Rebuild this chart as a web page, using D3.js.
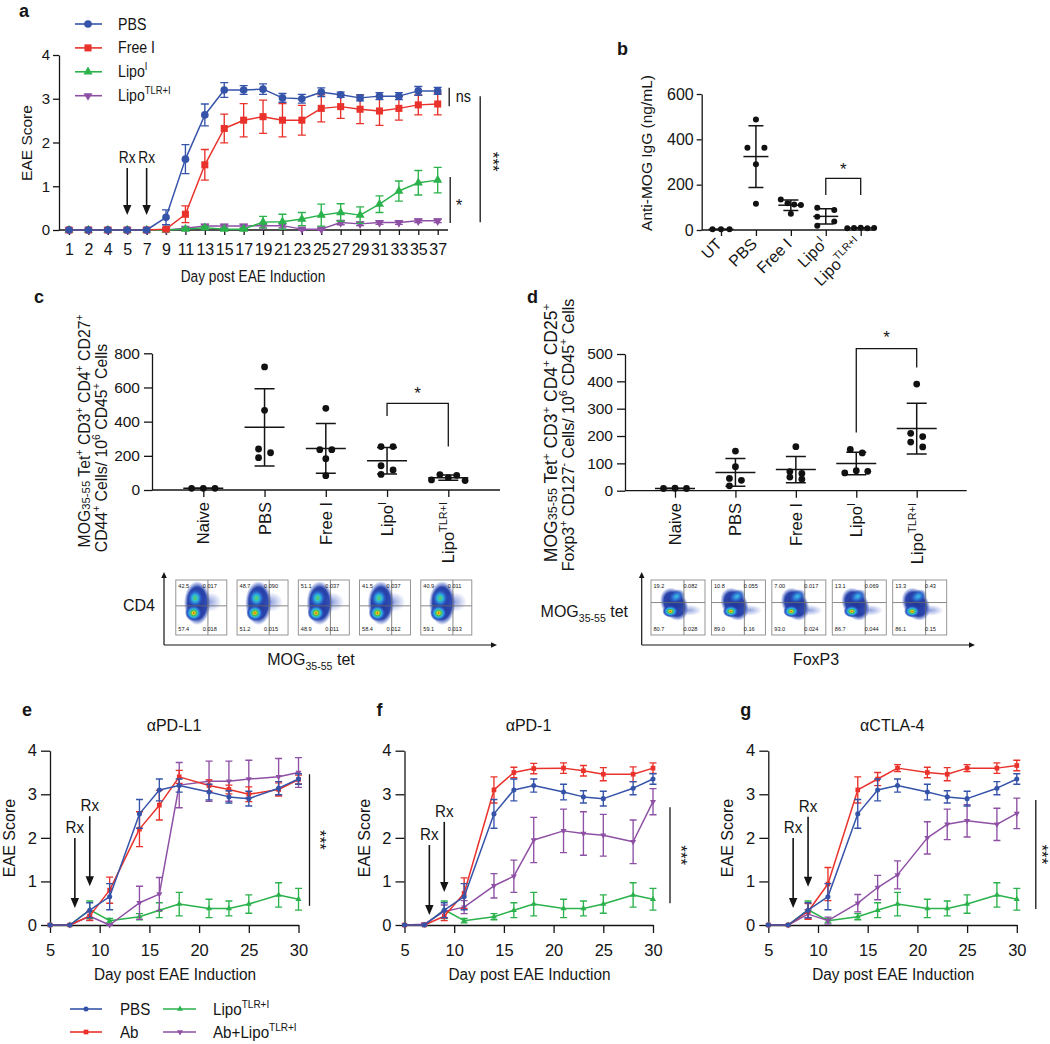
<!DOCTYPE html>
<html>
<head>
<meta charset="utf-8">
<script src="https://cdn.jsdelivr.net/npm/d3@7"></script>
<style>
 html,body{margin:0;padding:0;background:#fff;}
 svg{display:block;}
</style>
</head>
<body>
<svg id="fig" width="1050" height="1044" xmlns="http://www.w3.org/2000/svg"></svg>
<script>
// ================= DATA =================
// Panel a
const daysA = [1,2,4,5,7,9,11,13,15,17,19,21,23,25,27,29,31,33,35,37];
const a_PBS        = [0,0,0,0,0,0.29,1.62,2.63,3.20,3.20,3.22,3.02,3.00,3.15,3.09,3.02,3.06,3.06,3.18,3.18];
const a_PBS_err    = [0,0,0,0,0,0.17,0.33,0.25,0.17,0.10,0.12,0.10,0.10,0.10,0.06,0.07,0.08,0.08,0.10,0.08];
const a_FreeI      = [0,0,0,0,0,0.02,0.36,1.49,2.32,2.51,2.59,2.51,2.51,2.78,2.82,2.76,2.72,2.78,2.86,2.88];
const a_FreeI_err  = [0,0,0,0,0,0.02,0.19,0.35,0.33,0.38,0.38,0.38,0.34,0.31,0.27,0.33,0.33,0.27,0.23,0.25];
const a_LipoI      = [0,0,0,0,0,0,0.02,0.05,0.02,0.02,0.18,0.19,0.25,0.34,0.40,0.34,0.59,0.89,1.08,1.14];
const a_LipoI_err  = [0,0,0,0,0,0,0.02,0.03,0.02,0.02,0.13,0.17,0.15,0.25,0.20,0.19,0.19,0.23,0.28,0.29];
const a_LipoTLR    = [0,0,0,0,0,0,0.04,0.09,0.09,0.09,0.10,0.10,0.02,0.02,0.17,0.14,0.17,0.17,0.21,0.21];
const a_LipoTLR_err= [0,0,0,0,0,0,0.02,0.04,0.04,0.04,0.05,0.05,0.02,0.02,0.05,0.04,0.04,0.04,0.04,0.04];
const groupsA = ["PBS","Free I","LipoI","LipoTLR+I"];
const yTicksA = [0,1,2,3,4];

// Panel b
const catsB = ["UT","PBS","Free I","LipoI","LipoTLR+I"];
const b_UT = [3,3,3];
const b_PBS = [488,363,363,290,116];
const b_FreeI = [135,118,112,110,72];
const b_LipoI = [98,88,59,37,19];
const b_LipoTLR = [8,9,10,8,9];
const yTicksB = [0,200,400,600];

// Panel c
const catsCD = ["Naive","PBS","Free I","LipoI","LipoTLR+I"];
const c_Naive = [10,10,10];
const c_PBS = [720,466,240,218,189];
const c_FreeI = [478,236,236,183,84];
const c_LipoI = [254,254,142,117,91];
const c_LipoTLR = [59,90,72,86,55];
const yTicksC = [0,200,400,600,800];

// Panel d
const d_Naive = [8,9,8];
const d_PBS = [145,88,45,38,18];
const d_FreeI = [161,70,63,50,42];
const d_LipoI = [151,138,65,73,71];
const d_LipoTLR = [390,210,198,178,160];
const yTicksD = [0,100,200,300,400,500];

// Flow cytometry quadrant percentages
const flowC_UL = ["42.5","48.7","51.1","41.5","40.9"];
const flowC_UR = ["0.017","0.090","0.037","0.037","0.011"];
const flowC_LL = ["57.4","51.2","48.9","58.4","59.1"];
const flowC_LR = ["0.018","0.015","0.011","0.012","0.013"];
const flowD_UL = ["19.2","10.8","7.00","13.1","13.3"];
const flowD_UR = ["0.082","0.055","0.017","0.069","0.43"];
const flowD_LL = ["80.7","89.0","93.0","86.7","86.1"];
const flowD_LR = ["0.028","0.16","0.024","0.044","0.15"];

// Panels e, f, g
const daysEFG = [5,7,9,11,14,16,18,21,23,25,28,30];
const xTicksEFG = [5,10,15,20,25,30];
const efg_PBS     = [0,0,0.34,0.65,2.55,3.10,3.20,3.05,2.94,2.90,3.14,3.35];
const efg_PBS_err = [0,0,0.17,0.30,0.33,0.25,0.15,0.18,0.14,0.17,0.15,0.12];
const efg_Lipo    = [0,0,0.35,0.10,0.19,0.34,0.48,0.38,0.38,0.48,0.69,0.59];
const efg_Lipo_err= [0,0,0.20,0.05,0.07,0.17,0.27,0.21,0.17,0.21,0.28,0.25];
const e_Ab        = [0,0,0.21,0.80,2.20,2.75,3.40,3.20,3.11,3.00,3.11,3.34];
const e_Ab_err    = [0,0,0.10,0.30,0.40,0.34,0.15,0.13,0.10,0.17,0.15,0.10];
const e_AbLipo    = [0,0,0.20,0.00,0.51,0.71,3.21,3.30,3.30,3.35,3.40,3.50];
const e_AbLipo_err= [0,0,0.10,0.02,0.38,0.38,0.52,0.46,0.46,0.43,0.42,0.34];
const f_Ab        = [0,0,0.20,0.73,3.10,3.50,3.59,3.60,3.54,3.46,3.46,3.60];
const f_Ab_err    = [0,0,0.10,0.35,0.30,0.12,0.12,0.12,0.12,0.15,0.17,0.12];
const f_AbLipo    = [0,0.02,0.31,0.41,0.90,1.12,1.95,2.16,2.10,2.06,1.91,2.83];
const f_AbLipo_err= [0,0.02,0.15,0.15,0.28,0.37,0.52,0.50,0.50,0.48,0.50,0.30];
const g_Ab        = [0,0,0.31,0.94,3.10,3.35,3.60,3.50,3.46,3.60,3.60,3.66];
const g_Ab_err    = [0,0,0.18,0.38,0.30,0.15,0.08,0.12,0.15,0.08,0.12,0.12];
const g_AbLipo    = [0,0,0.25,0.10,0.50,0.86,1.15,2.00,2.31,2.39,2.31,2.56];
const g_AbLipo_err= [0,0,0.10,0.08,0.20,0.28,0.32,0.37,0.35,0.37,0.37,0.35];
const groupsEFG = ["PBS","Ab","LipoTLR+I","Ab+LipoTLR+I"];

// ================= SETUP =================
const svg = d3.select("#fig");
svg.append("rect").attr("width",1050).attr("height",1044).attr("fill","#fff");
const FONT = "'Liberation Sans', Arial, Helvetica, sans-serif";
const INK = "#151515";
const COL = {blue:"#3553a9", red:"#e9322b", green:"#2bb24c", purple:"#8e50a5"};
const defs = svg.append("defs");
const fmtInt = d3.format("d");

function rich(t, parts, fs){
  let shift = 0;
  parts.forEach(p=>{
    const target = p.sup ? -0.42*fs : (p.sub ? 0.3*fs : 0);
    const sz = (p.sup||p.sub) ? 0.66*fs : (p.small ? 0.72*fs : fs);
    const ts = t.append("tspan").attr("font-size", sz).text(p.t);
    if (target !== shift){ ts.attr("dy", target - shift); shift = target; }
  });
}
function txt(g, x, y, s, o={}){
  const fs = o.fs || 15;
  const t = g.append("text").attr("font-family",FONT).attr("font-size",fs).attr("fill",INK)
    .attr("text-anchor",o.anchor||"start");
  const sc = o.sx ? ` scale(${o.sx},1)` : "";
  if (o.rot!=null) t.attr("transform",`translate(${x},${y}) rotate(${o.rot})${sc}`);
  else if (o.sx) t.attr("transform",`translate(${x},${y})${sc}`);
  else t.attr("x",x).attr("y",y);
  if (o.bold) t.attr("font-weight","bold");
  if (o.dy) t.attr("dy",o.dy);
  if (Array.isArray(s)) rich(t,s,fs); else t.text(s);
  return t;
}
function lp(name){
  if (name==="LipoI") return [{t:"Lipo"},{t:"I",sup:true}];
  if (name==="LipoTLR+I") return [{t:"Lipo"},{t:"TLR+I",sup:true}];
  if (name==="Ab+LipoTLR+I") return [{t:"Ab+Lipo"},{t:"TLR+I",sup:true}];
  return name;
}
function styleAxis(a, fs){
  a.attr("font-family",FONT).attr("font-size",fs);
  a.selectAll(".domain,.tick line").attr("stroke",INK).attr("stroke-width",1.3);
  a.selectAll(".tick text").attr("fill",INK);
}
function symPath(shape,size){
  const t = shape==="circle"?d3.symbolCircle:shape==="square"?d3.symbolSquare:d3.symbolTriangle;
  return d3.symbol(t,size)();
}
function drawSeries(g, x, y, xs, v, e, color, shape, size, cap, lw){
  g.append("path").attr("d", d3.line().x((d,i)=>x(xs[i])).y(d=>y(d))(v))
    .attr("fill","none").attr("stroke",color).attr("stroke-width",lw).attr("stroke-linejoin","round");
  const eb = g.append("g").attr("stroke",color).attr("stroke-width",lw*0.9).attr("fill","none");
  v.forEach((d,i)=>{
    if (!e[i]) return;
    const cx=x(xs[i]), yt=y(d+e[i]), yb=y(Math.max(0,d-e[i]));
    eb.append("path").attr("d",`M${cx},${yb}V${yt}M${cx-cap/2},${yt}H${cx+cap/2}M${cx-cap/2},${yb}H${cx+cap/2}`);
  });
  v.forEach((d,i)=>{
    g.append("path").attr("d",symPath(shape,size)).attr("fill",color)
      .attr("transform",`translate(${x(xs[i])},${y(d)})${shape==="down"?" rotate(180)":""}`);
  });
}
function rxArrow(g, x, tipY, len, gap, fs, sx){
  g.append("line").attr("x1",x).attr("x2",x).attr("y1",tipY-len).attr("y2",tipY-8)
    .attr("stroke",INK).attr("stroke-width",1.6);
  g.append("path").attr("d",`M${x-4.2},${tipY-10}L${x+4.2},${tipY-10}L${x},${tipY}Z`).attr("fill",INK);
  txt(g, x, tipY-len-gap, "Rx", {fs:fs||16, anchor:"middle", sx:sx});
}
function legendItem(g, x1, x2, xm, xt, y, color, shape, size, label, fs, sx){
  g.append("line").attr("x1",x1).attr("x2",x2).attr("y1",y).attr("y2",y).attr("stroke",color).attr("stroke-width",1.6);
  g.append("path").attr("d",symPath(shape,size)).attr("fill",color)
    .attr("transform",`translate(${xm},${y})${shape==="down"?" rotate(180)":""}`);
  txt(g, xt, y+5.5, lp(label), {fs:fs, sx:sx});
}

// ================= PANEL A =================
const gA = svg.append("g");
const xA = d3.scalePoint().domain(daysA).range([69,437.7]);
const yA = d3.scaleLinear().domain([0,4]).range([230,55]);
{
  const ay = gA.append("g").attr("transform","translate(59,0)")
    .call(d3.axisLeft(yA).tickValues(yTicksA).tickFormat(fmtInt).tickSize(6).tickSizeOuter(0).tickPadding(3));
  styleAxis(ay,15);
  const ax = gA.append("g").attr("transform","translate(0,230)")
    .call(d3.axisBottom(xA).tickSize(5).tickPadding(9));
  ax.select(".domain").remove();
  styleAxis(ax,16);
  gA.append("line").attr("x1",59).attr("x2",448).attr("y1",230).attr("y2",230).attr("stroke",INK).attr("stroke-width",1.3);
  const serA = [
    [a_LipoTLR,a_LipoTLR_err,COL.purple,"down",34],
    [a_LipoI,a_LipoI_err,COL.green,"up",36],
    [a_FreeI,a_FreeI_err,COL.red,"square",50],
    [a_PBS,a_PBS_err,COL.blue,"circle",46]
  ];
  serA.forEach(s=>drawSeries(gA.append("g"), xA, yA, daysA, s[0], s[1], s[2], s[3], s[4], 8, 1.5));
  // legend
  const legA = [[COL.blue,"circle",46],[COL.red,"square",50],[COL.green,"up",36],[COL.purple,"down",34]];
  groupsA.forEach((name,i)=>legendItem(gA,75,102,88,118,24+i*23.9,legA[i][0],legA[i][1],legA[i][2],name,16.5,0.86));
  txt(gA, 32, 143, "EAE Score", {fs:15.5, anchor:"middle", rot:-90});
  txt(gA, 253, 282, "Day post EAE Induction", {fs:16.5, anchor:"middle", sx:0.83});
  txt(gA, 19, 17, "a", {fs:18, bold:true});
  rxArrow(gA, xA(5), 215, 47, 5, 16, 0.86);
  rxArrow(gA, xA(7), 215, 47, 5, 16, 0.86);
  // significance
  const xe = xA(37);
  const sl = (x,v1,v2)=>gA.append("line").attr("x1",x).attr("x2",x).attr("y1",yA(v1)).attr("y2",yA(v2)).attr("stroke",INK).attr("stroke-width",1.3);
  sl(xe+11.5, 3.25, 2.83); txt(gA, xe+18, 102, "ns", {fs:16, sx:0.9});
  sl(xe+12.5, 1.21, 0.16); txt(gA, xe+18, 211, "*", {fs:17});
  sl(xe+42.5, 3.06, 0.18); txt(gA, xe+49, yA(1.56), "***", {fs:17, anchor:"middle", rot:90});
}

// ================= DOT PLOTS (b, c, d) =================
function swarm(vals, y, P){
  const pts = vals.map((v,i)=>({v,i,py:y(v),dx:0}));
  const s = pts.slice().sort((a,b)=>b.v-a.v || a.i-b.i);
  const rows=[]; let cur=[s[0]];
  for (let k=1;k<s.length;k++){
    if (s[k].py - s[k-1].py < P.chain) cur.push(s[k]); else { rows.push(cur); cur=[s[k]]; }
  }
  rows.push(cur);
  rows.forEach(row=>{
    const n=row.length; if (n===1) return;
    const spread = row[n-1].py - row[0].py;
    if (spread < P.thr){
      const byI = row.slice().sort((a,b)=>a.i-b.i);
      if (n===2){ byI[0].dx=-P.dAlt/2; byI[1].dx=P.dAlt/2; }
      else { const d = n>=4?P.d4:P.d3; byI.forEach((p,j)=>p.dx=(j-(n-1)/2)*d); }
    } else row.forEach((p,j)=>p.dx=(j%2?1:-1)*P.dAlt/2);
  });
  return pts;
}
function dotPlot(g, cats, data, x, y, P){
  cats.forEach((c,ci)=>{
    const vals = data[ci], cx = x(c);
    const m = d3.mean(vals), sd = d3.deviation(vals);
    const lg = g.append("g").attr("stroke",INK).attr("stroke-width",1.5).attr("fill","none");
    lg.append("path").attr("d",`M${cx-P.meanW/2},${y(m)}H${cx+P.meanW/2}`);
    lg.append("path").attr("d",`M${cx},${y(m-sd)}V${y(m+sd)}M${cx-P.capW/2},${y(m+sd)}H${cx+P.capW/2}M${cx-P.capW/2},${y(m-sd)}H${cx+P.capW/2}`);
    swarm(vals,y,P).forEach(p=>g.append("circle").attr("cx",cx+p.dx).attr("cy",p.py).attr("r",P.r).attr("fill","#111"));
  });
}
function bracket(g, x1, x2, y, vTop, vL, vR, starY){
  g.append("path").attr("d",`M${x1},${y(vL)}V${y(vTop)}H${x2}V${y(vR)}`).attr("fill","none").attr("stroke",INK).attr("stroke-width",1.3);
  txt(g,(x1+x2)/2, starY, "*", {fs:17, anchor:"middle"});
}

// ---- Panel b ----
const gB = svg.append("g");
const xB = d3.scalePoint().domain(catsB).range([721,860.7]);
const yB = d3.scaleLinear().domain([0,600]).range([230,94]);
{
  const ay = gB.append("g").attr("transform","translate(701.7,0)")
    .call(d3.axisLeft(yB).tickValues(yTicksB).tickFormat(fmtInt).tickSize(5).tickSizeOuter(0).tickPadding(3));
  styleAxis(ay,16);
  const ax = gB.append("g").attr("transform","translate(0,230)")
    .call(d3.axisBottom(xB).tickSize(6).tickFormat(""));
  ax.select(".domain").remove(); styleAxis(ax,15);
  gB.append("line").attr("x1",701.7).attr("x2",873).attr("y1",230).attr("y2",230).attr("stroke",INK).attr("stroke-width",1.3);
  dotPlot(gB, catsB, [b_UT,b_PBS,b_FreeI,b_LipoI,b_LipoTLR], xB, yB,
    {r:3, meanW:25, capW:15, chain:7, thr:7, d3:8.5, d4:6.7, dAlt:17});
  catsB.forEach(c=>txt(gB, xB(c)+2, 245, lp(c), {fs:16, anchor:"end", rot:-45}));
  bracket(gB, xB("LipoI"), xB("LipoTLR+I"), yB, 228, 154, 154, 175);
  txt(gB, 652, 153, "Anti-MOG IgG (ng/mL)", {fs:15.5, anchor:"middle", rot:-90});
  txt(gB, 617, 55, "b", {fs:18, bold:true});
}

// ---- Panel c ----
const gC = svg.append("g");
const xC = d3.scalePoint().domain(catsCD).range([203.3,448.3]);
const yC = d3.scaleLinear().domain([0,800]).range([490,353.3]);
{
  const ay = gC.append("g").attr("transform","translate(152,0)")
    .call(d3.axisLeft(yC).tickValues(yTicksC).tickFormat(fmtInt).tickSize(8).tickSizeOuter(0).tickPadding(4));
  styleAxis(ay,15.5);
  const ax = gC.append("g").attr("transform","translate(0,490)")
    .call(d3.axisBottom(xC).tickSize(7).tickFormat(""));
  ax.select(".domain").remove(); styleAxis(ax,15);
  gC.append("line").attr("x1",152).attr("x2",500).attr("y1",490).attr("y2",490).attr("stroke",INK).attr("stroke-width",1.3);
  dotPlot(gC, catsCD, [c_Naive,c_PBS,c_FreeI,c_LipoI,c_LipoTLR], xC, yC,
    {r:3.4, meanW:40, capW:20, chain:7, thr:7, d3:11.7, d4:8.4, dAlt:12});
  catsCD.forEach(c=>txt(gC, xC(c), 502, lp(c), {fs:16.5, anchor:"end", rot:-90, dy:"0.36em"}));
  bracket(gC, xC("LipoI"), xC("LipoTLR+I"), yC, 507, 433, 254, 399);
  txt(gC, 90, 431, [{t:"MOG"},{t:"35-55",small:true},{t:" Tet"},{t:"+",sup:true},{t:" CD3"},{t:"+",sup:true},{t:" CD4"},{t:"+",sup:true},{t:" CD27"},{t:"+",sup:true}], {fs:15.8, anchor:"middle", rot:-90});
  txt(gC, 107, 448, [{t:"CD44"},{t:"+",sup:true},{t:" Cells/ 10"},{t:"6",sup:true},{t:" CD45"},{t:"+",sup:true},{t:" Cells"}], {fs:15.8, anchor:"middle", rot:-90});
  txt(gC, 34, 303, "c", {fs:18, bold:true});
}

// ---- Panel d ----
const gD = svg.append("g");
const xD = d3.scalePoint().domain(catsCD).range([675,916.7]);
const yD = d3.scaleLinear().domain([0,500]).range([490.7,354]);
{
  const ay = gD.append("g").attr("transform","translate(625,0)")
    .call(d3.axisLeft(yD).tickValues(yTicksD).tickFormat(fmtInt).tickSize(8).tickSizeOuter(0).tickPadding(4));
  styleAxis(ay,15.5);
  const ax = gD.append("g").attr("transform","translate(0,490.7)")
    .call(d3.axisBottom(xD).tickSize(7).tickFormat(""));
  ax.select(".domain").remove(); styleAxis(ax,15);
  gD.append("line").attr("x1",625).attr("x2",966.7).attr("y1",490.7).attr("y2",490.7).attr("stroke",INK).attr("stroke-width",1.3);
  dotPlot(gD, catsCD, [d_Naive,d_PBS,d_FreeI,d_LipoI,d_LipoTLR], xD, yD,
    {r:3.4, meanW:40, capW:20, chain:7, thr:7, d3:11.5, d4:8.4, dAlt:12});
  catsCD.forEach(c=>txt(gD, xD(c), 503, lp(c), {fs:16.5, anchor:"end", rot:-90, dy:"0.36em"}));
  bracket(gD, xD("LipoI"), xD("LipoTLR+I"), yD, 520, 213, 451, 343);
  txt(gD, 557, 433, [{t:"MOG"},{t:"35-55",small:true},{t:" Tet"},{t:"+",sup:true},{t:" CD3"},{t:"+",sup:true},{t:" CD4"},{t:"+",sup:true},{t:" CD25"},{t:"+",sup:true}], {fs:17.5, anchor:"middle", rot:-90});
  txt(gD, 574, 435, [{t:"Foxp3"},{t:"+",sup:true},{t:" CD127"},{t:"-",sup:true},{t:" Cells/ 10"},{t:"6",sup:true},{t:" CD45"},{t:"+",sup:true},{t:" Cells"}], {fs:16, anchor:"middle", rot:-90});
  txt(gD, 527, 303, "d", {fs:18, bold:true});
}

// ---- Flow cytometry insets ----
function radGrad(id, stops){
  const gr = defs.append("radialGradient").attr("id",id);
  stops.forEach(s=>gr.append("stop").attr("offset",s[0]).attr("stop-color",s[1]).attr("stop-opacity",s[2]==null?1:s[2]));
}
radGrad("gHot",[[0,"#d8201c"],[0.14,"#f0d020"],[0.3,"#4cc24a"],[0.5,"#2fb3e3"],[0.75,"#2a55c6"],[1,"#243a9e",0]]);
radGrad("gWarm",[[0,"#62cf48"],[0.3,"#2fc0d8"],[0.62,"#2c63cc"],[1,"#243a9e",0]]);
radGrad("gCool",[[0,"#3cc4e8"],[0.5,"#2d6ad0"],[1,"#243a9e",0]]);
radGrad("gEnv",[[0,"#22369a"],[0.72,"#2a44aa"],[1,"#3a5cc8",0]]);
radGrad("gTail",[[0,"#3a58c6",0.55],[1,"#3a58c6",0]]);

const blobC = [
  {f:"gEnv", cx:.42, cy:.42, rx:.26, ry:.40, rot:0},
  {f:"gTail", cx:.66, cy:.40, rx:.24, ry:.18, rot:0},
  {f:"gWarm", cx:.38, cy:.33, rx:.17, ry:.18, rot:0},
  {f:"gHot", cx:.35, cy:.60, rx:.17, ry:.15, rot:0}
];
const blobD = [
  {f:"gEnv", cx:.43, cy:.44, rx:.24, ry:.32, rot:-30},
  {f:"gTail", cx:.70, cy:.55, rx:.24, ry:.10, rot:0},
  {f:"gCool", cx:.47, cy:.30, rx:.17, ry:.12, rot:-30},
  {f:"gHot", cx:.36, cy:.57, rx:.15, ry:.11, rot:0}
];
let clipN = 0;
function flowBox(g, cx, top, w, h, blobs, vq, hq, ul, ur, ll, lr, urx){
  const x0 = cx - w/2, id = "clp"+(clipN++);
  defs.append("clipPath").attr("id",id).append("rect").attr("x",x0).attr("y",top).attr("width",w).attr("height",h);
  g.append("rect").attr("x",x0).attr("y",top).attr("width",w).attr("height",h).attr("fill","#fff");
  const bg = g.append("g").attr("clip-path",`url(#${id})`);
  blobs.forEach(b=>{
    bg.append("ellipse").attr("cx",0).attr("cy",0).attr("rx",b.rx*w).attr("ry",b.ry*h)
      .attr("fill",`url(#${b.f})`)
      .attr("transform",`translate(${x0+b.cx*w},${top+b.cy*h}) rotate(${b.rot})`);
  });
  g.append("line").attr("x1",x0+vq*w).attr("x2",x0+vq*w).attr("y1",top).attr("y2",top+h).attr("stroke","#6a6a6a").attr("stroke-width",0.8);
  g.append("line").attr("x1",x0).attr("x2",x0+w).attr("y1",top+hq*h).attr("y2",top+hq*h).attr("stroke","#6a6a6a").attr("stroke-width",0.8);
  g.append("rect").attr("x",x0).attr("y",top).attr("width",w).attr("height",h).attr("fill","none").attr("stroke","#8a8a8a").attr("stroke-width",0.9);
  const fs = 5.6;
  txt(g, x0+2.5, top+8, ul, {fs}); txt(g, x0+urx*w, top+8, ur, {fs});
  txt(g, x0+2.5, top+h-4, ll, {fs}); txt(g, x0+urx*w, top+h-4, lr, {fs});
}
function lArrows(g, x, yb, ytop, xr){
  const s = g.append("g").attr("stroke",INK).attr("stroke-width",1.2);
  s.append("line").attr("x1",x).attr("x2",x).attr("y1",yb).attr("y2",ytop+5);
  s.append("line").attr("x1",x).attr("x2",xr-5).attr("y1",yb).attr("y2",yb);
  g.append("path").attr("d",`M${x-2.8},${ytop+6}L${x+2.8},${ytop+6}L${x},${ytop}Z`).attr("fill",INK);
  g.append("path").attr("d",`M${xr-6},${yb-2.8}L${xr-6},${yb+2.8}L${xr},${yb}Z`).attr("fill",INK);
}
{
  const gF = svg.append("g");
  catsCD.forEach((c,i)=>flowBox(gF, xC(c)-2, 580, 51, 55, blobC, 0.63, 0.47, flowC_UL[i], flowC_UR[i], flowC_LL[i], flowC_LR[i], 0.53));
  catsCD.forEach((c,i)=>flowBox(gF, xD(c)+3, 580, 54, 55, blobD, 0.61, 0.41, flowD_UL[i], flowD_UR[i], flowD_LL[i], flowD_LR[i], 0.60));
  lArrows(gF, 164, 645, 572, 497);
  lArrows(gF, 641.7, 645, 572, 975);
  txt(gF, 155, 611, "CD4", {fs:16, anchor:"end"});
  txt(gF, 311, 665, [{t:"MOG"},{t:"35-55",sub:true},{t:" tet"}], {fs:16, anchor:"middle"});
  txt(gF, 628, 617, [{t:"MOG"},{t:"35-55",sub:true},{t:" tet"}], {fs:16, anchor:"end"});
  txt(gF, 816, 665, "FoxP3", {fs:16, anchor:"middle"});
}

// ================= PANELS E, F, G =================
const yE = d3.scaleLinear().domain([0,4]).range([925,750.7]);
const panelsEFG = [
  {lab:"e", title:"αPD-L1", x0:50,    ab:e_Ab, abE:e_Ab_err, abl:e_AbLipo, ablE:e_AbLipo_err, tips:[0.39,0.89], sig:[3.46,0.44], sigDx:11, starDx:4},
  {lab:"f", title:"αPD-1",  x0:404.5, ab:f_Ab, abE:f_Ab_err, abl:f_AbLipo, ablE:f_AbLipo_err, tips:[0.23,0.76], sig:[2.70,0.50], sigDx:17, starDx:5},
  {lab:"g", title:"αCTLA-4",x0:768.3, ab:g_Ab, abE:g_Ab_err, abl:g_AbLipo, ablE:g_AbLipo_err, tips:[0.39,0.88], sig:[2.87,0.37], sigDx:19, starDx:0}
];
panelsEFG.forEach(P=>{
  const g = svg.append("g");
  const x = d3.scaleLinear().domain([5,30]).range([P.x0, P.x0+248.5]);
  const ay = g.append("g").attr("transform",`translate(${P.x0},0)`)
    .call(d3.axisLeft(yE).tickValues(yTicksA).tickFormat(fmtInt).tickSize(9).tickSizeOuter(0).tickPadding(4));
  styleAxis(ay,16.5);
  const ax = g.append("g").attr("transform","translate(0,925)")
    .call(d3.axisBottom(x).tickValues(xTicksEFG).tickFormat(fmtInt).tickSize(8).tickSizeOuter(0).tickPadding(11));
  styleAxis(ax,16.5);
  const ser = [
    [efg_Lipo,efg_Lipo_err,COL.green,"up",16],
    [P.abl,P.ablE,COL.purple,"down",16],
    [P.ab,P.abE,COL.red,"square",22],
    [efg_PBS,efg_PBS_err,COL.blue,"circle",20]
  ];
  ser.forEach(s=>drawSeries(g.append("g"), x, yE, daysEFG, s[0], s[1], s[2], s[3], s[4], 7, 1.5));
  rxArrow(g, x(7.5), yE(P.tips[0]), 70, 5, 16, 0.95);
  rxArrow(g, x(9), yE(P.tips[1]), 70, 5, 16, 0.95);
  const xs = x(30)+P.sigDx;
  g.append("line").attr("x1",xs).attr("x2",xs).attr("y1",yE(P.sig[0])).attr("y2",yE(P.sig[1])).attr("stroke",INK).attr("stroke-width",1.3);
  txt(g, xs+P.starDx, yE((P.sig[0]+P.sig[1])/2), "***", {fs:17, anchor:"middle", rot:90});
  txt(g, P.x0+124, 731, P.title, {fs:16, anchor:"middle"});
  txt(g, P.x0-35, 838, "EAE Score", {fs:16, anchor:"middle", rot:-90});
  txt(g, P.x0+125, 980, "Day post EAE Induction", {fs:16, anchor:"middle", sx:0.96});
  txt(g, P.x0-28, 716, P.lab, {fs:18, bold:true});
});
// bottom legend
{
  const gl = svg.append("g");
  const legE = [[COL.blue,"circle",20],[COL.red,"square",22],[COL.green,"up",16],[COL.purple,"down",16]];
  groupsEFG.forEach((name,i)=>{
    const col = i<2?0:1, row = i%2;
    const x1 = col?163:70, x2 = col?196:102, xm = col?180:86, xt = col?213:120;
    legendItem(gl, x1, x2, xm, xt, 1009+row*23, legE[i][0], legE[i][1], legE[i][2], name, 16.5, 0.92);
  });
}
</script>
</body>
</html>
